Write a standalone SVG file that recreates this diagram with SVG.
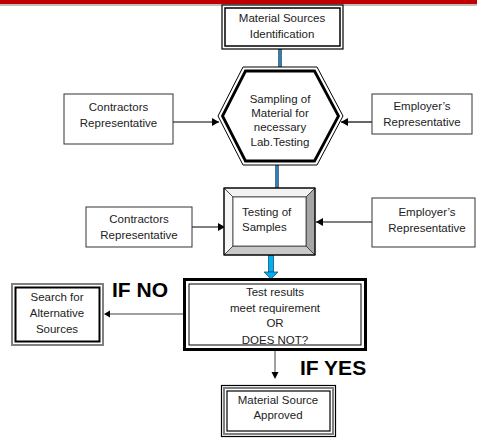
<svg xmlns="http://www.w3.org/2000/svg" width="477" height="440" viewBox="0 0 477 440">
<style>
.t{font-family:"Liberation Sans",Arial,sans-serif;font-size:11.5px;fill:#222;text-anchor:middle}
.b{font-family:"Liberation Sans",Arial,sans-serif;font-size:21px;font-weight:bold;fill:#000}
.box{fill:#fff;stroke:#333;stroke-width:1}
.ln{stroke:#000;stroke-width:1.2;fill:none}
.gl{stroke:#808080;stroke-width:1.5;fill:none}
</style>
<defs>
<marker id="ah" markerUnits="userSpaceOnUse" markerWidth="8" markerHeight="8" refX="7" refY="4" orient="auto">
<path d="M0,0 L7,4 L0,8 Z" fill="#000"/>
</marker>
</defs>
<rect x="0" y="0" width="477" height="4" fill="#c00000"/>
<rect x="0" y="4" width="477" height="2" fill="#bfbfbf"/>

<g id="connectors">
<line x1="280" y1="49" x2="280" y2="68" stroke="#1f3f5f" stroke-width="3.5"/>
<line x1="280" y1="49" x2="280" y2="68" stroke="#2e8bc0" stroke-width="1.8"/>
<line x1="277" y1="165" x2="277" y2="188" stroke="#1f3f5f" stroke-width="3.5"/>
<line x1="277" y1="165" x2="277" y2="188" stroke="#2e8bc0" stroke-width="1.8"/>
<line class="ln" x1="173" y1="122" x2="219" y2="122" marker-end="url(#ah)"/>
<line class="ln" x1="372" y1="122" x2="341" y2="122" marker-end="url(#ah)"/>
<line class="ln" x1="192" y1="227" x2="225" y2="227" marker-end="url(#ah)"/>
<line class="ln" x1="372" y1="222" x2="316" y2="222" marker-end="url(#ah)"/>
<rect x="268.5" y="255" width="5" height="17" fill="#00b0f0" stroke="#1f4e79" stroke-width="0.8"/>
<path d="M264,272 L278,272 L271,279 Z" fill="#00b0f0" stroke="#1f4e79" stroke-width="0.8"/>
<line class="gl" x1="183" y1="314" x2="106" y2="314"/>
<path d="M104,314 L110,310.5 L110,317.5 Z" fill="#000"/>
<line class="gl" x1="275" y1="351" x2="275" y2="374"/>
<path d="M275,379 L271.5,372 L278.5,372 Z" fill="#000"/>
</g>

<g id="n-identification">
<rect x="222" y="5" width="121" height="44" fill="#fff" stroke="#000" stroke-width="1.2"/>
<rect x="225" y="8" width="115" height="38" fill="#fff" stroke="#000" stroke-width="1.5"/>
<text class="t" x="282" y="22">Material Sources</text>
<text class="t" x="282" y="38">Identification</text>
</g>

<g id="n-sampling">
<polygon points="243,67 317,67 343,116 317,165 243,165 218,116" fill="#fff" stroke="#000" stroke-width="1"/>
<polygon points="245.5,71 314.5,71 338.5,116 314.5,161 245.5,161 222.5,116" fill="#fff" stroke="#000" stroke-width="2.8"/>
<text class="t" x="280" y="103">Sampling of</text>
<text class="t" x="280" y="117">Material for</text>
<text class="t" x="280" y="131">necessary</text>
<text class="t" x="280" y="146">Lab.Testing</text>
</g>

<g id="n-contractors1">
<rect class="box" x="64" y="94" width="109" height="50"/>
<text class="t" x="118.5" y="111">Contractors</text>
<text class="t" x="118.5" y="127">Representative</text>
</g>

<g id="n-employer1">
<rect class="box" x="372" y="94" width="100" height="40"/>
<text class="t" x="422" y="110">Employer’s</text>
<text class="t" x="422" y="126">Representative</text>
</g>

<g id="n-testing">
<polygon points="224,188 315,188 306,197 233,197" fill="#f2f2f2" stroke="#333" stroke-width="0.8"/>
<polygon points="224,188 233,197 233,246 224,255" fill="#f7f7f7" stroke="#333" stroke-width="0.8"/>
<polygon points="315,188 315,255 306,246 306,197" fill="#a6a6a6" stroke="#333" stroke-width="0.8"/>
<polygon points="224,255 315,255 306,246 233,246" fill="#c8c8c8" stroke="#333" stroke-width="0.8"/>
<rect x="233" y="197" width="73" height="49" fill="#fff" stroke="#333" stroke-width="0.8"/>
<rect x="224" y="188" width="91" height="67" fill="none" stroke="#000" stroke-width="1.2"/>
<text class="t" x="242" y="216" style="text-anchor:start">Testing of</text>
<text class="t" x="242" y="231" style="text-anchor:start">Samples</text>
</g>

<g id="n-contractors2">
<rect class="box" x="86" y="207" width="106" height="40"/>
<text class="t" x="139" y="223">Contractors</text>
<text class="t" x="139" y="239">Representative</text>
</g>

<g id="n-employer2">
<rect class="box" x="372" y="198" width="103" height="49"/>
<text class="t" x="427" y="216">Employer’s</text>
<text class="t" x="427" y="232">Representative</text>
</g>

<g id="n-decision">
<rect x="184.5" y="279.5" width="181" height="70" fill="#fff" stroke="#000" stroke-width="3"/>
<rect x="189" y="284" width="172" height="61" fill="none" stroke="#000" stroke-width="1"/>
<text class="t" x="275" y="296">Test results</text>
<text class="t" x="275" y="312">meet requirement</text>
<text class="t" x="275" y="327">OR</text>
<text class="t" x="275" y="344">DOES NOT?</text>
</g>

<g id="n-search">
<rect x="12" y="284" width="91" height="61" fill="#fff" stroke="#808080" stroke-width="2"/>
<rect x="15.5" y="287.5" width="84" height="54" fill="#fff" stroke="#000" stroke-width="2"/>
<text class="t" x="57" y="301">Search for</text>
<text class="t" x="57" y="317">Alternative</text>
<text class="t" x="57" y="333">Sources</text>
</g>

<g id="n-approved">
<rect x="221.5" y="385.5" width="114" height="51" fill="#fff" stroke="#000" stroke-width="1.2"/>
<rect x="224" y="388" width="109" height="46" fill="#fff" stroke="#808080" stroke-width="2"/>
<rect x="227" y="391" width="103" height="40" fill="#fff" stroke="#000" stroke-width="1.2"/>
<text class="t" x="278" y="404">Material Source</text>
<text class="t" x="278" y="419">Approved</text>
</g>

<text class="b" x="112" y="297">IF NO</text>
<text class="b" x="300" y="375">IF YES</text>
</svg>
